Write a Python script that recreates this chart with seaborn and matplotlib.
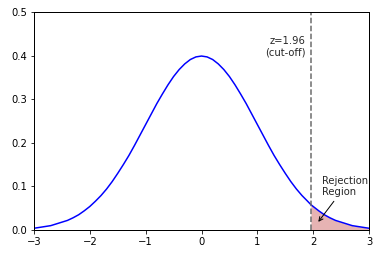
import matplotlib
matplotlib.use("Agg")
import matplotlib.pyplot as plt
import seaborn as sns
import pandas as pd

# Values
z_values = [-3.0, -2.9, -2.8, -2.7, -2.6, -2.5, -2.4, -2.3, -2.2, -2.1, -2.0,
            -1.9, -1.8, -1.7, -1.6, -1.5, -1.4, -1.3, -1.2, -1.1, -1.0,
            -0.9, -0.8, -0.7, -0.6, -0.5, -0.4, -0.3, -0.2, -0.1, 0.0,
            0.1, 0.2, 0.3, 0.4, 0.5, 0.6, 0.7, 0.8, 0.9, 1.0,
            1.1, 1.2, 1.3, 1.4, 1.5, 1.6, 1.7, 1.8, 1.9, 1.96, 2.0,
            2.1, 2.2, 2.3, 2.4, 2.5, 2.6, 2.7, 2.8, 2.9, 3.0]
density = [0.004, 0.006, 0.008, 0.010, 0.014, 0.018, 0.022, 0.028, 0.035, 0.044, 0.054,
           0.066, 0.079, 0.094, 0.111, 0.130, 0.150, 0.171, 0.194, 0.218, 0.242,
           0.266, 0.290, 0.312, 0.333, 0.352, 0.368, 0.381, 0.391, 0.397, 0.399,
           0.397, 0.391, 0.381, 0.368, 0.352, 0.333, 0.312, 0.290, 0.266, 0.242,
           0.218, 0.194, 0.171, 0.150, 0.130, 0.111, 0.094, 0.079, 0.066, 0.058, 0.054,
           0.044, 0.035, 0.028, 0.022, 0.018, 0.014, 0.010, 0.008, 0.006, 0.004]
cutoff = 1.96
cutoff_label = "z=1.96\n(cut-off)"
region_label = "Rejection\nRegion"
x_ticks = [-3, -2, -1, 0, 1, 2, 3]
y_ticks = [0.0, 0.1, 0.2, 0.3, 0.4, 0.5]

sns.set_style("ticks")
plt.rcParams['font.family'] = ['DejaVu Sans']
plt.rcParams['font.size'] = 10

df = pd.DataFrame({"z": z_values, "pdf": density})

fig = plt.figure(figsize=(383 / 72, 257 / 72), dpi=72)
ax = fig.add_axes([34 / 383, 27 / 257, 335 / 383, 218 / 257])

sns.lineplot(data=df, x="z", y="pdf", ax=ax, color="blue", linewidth=1.5)
tail = df[df["z"] >= cutoff]
ax.fill_between(tail["z"], 0, tail["pdf"], color="#e6b3b3", linewidth=0)
ax.axvline(cutoff, color="dimgray", linestyle="--", linewidth=1.5)

ax.text(1.87, 0.42, cutoff_label, ha="right", va="center", fontsize=10)
ax.annotate(region_label, xy=(2.07, 0.015), xytext=(2.16, 0.10),
            ha="left", va="center", fontsize=10,
            arrowprops=dict(arrowstyle="->", color="black", lw=1))

ax.set_xlim(-3, 3)
ax.set_ylim(0, 0.5)
ax.set_xticks(x_ticks)
ax.set_yticks(y_ticks)
ax.set_xticklabels([f"{t}".replace("-", "\u2212") for t in x_ticks])
ax.set_yticklabels([f"{t:.1f}" for t in y_ticks])
ax.set_xlabel("")
ax.set_ylabel("")
for s in ax.spines.values():
    s.set_visible(True)
    s.set_color("black")
    s.set_linewidth(1)
ax.tick_params(colors="black", labelsize=10, length=3.5)

fig.savefig("out.png", dpi=72)
